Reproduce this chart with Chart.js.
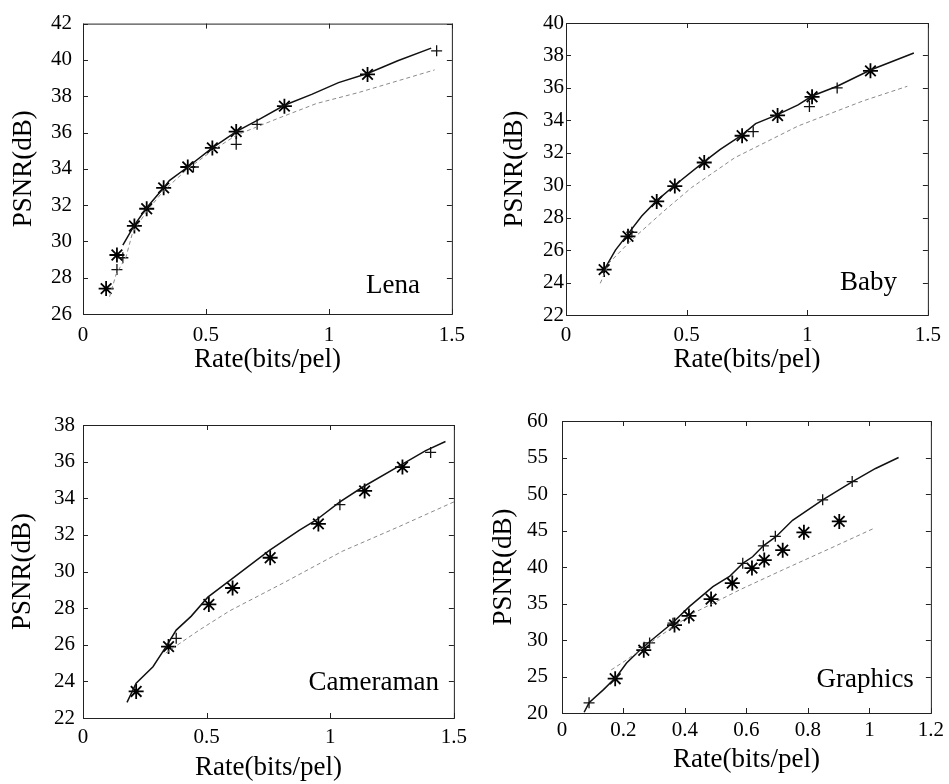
<!DOCTYPE html>
<html>
<head>
<meta charset="utf-8">
<script src="https://cdn.jsdelivr.net/npm/chart.js@4.4.0/dist/chart.umd.min.js"></script>
<style>
  body { margin: 0; background: #fff; width: 949px; height: 784px; position: relative; overflow: hidden; }
  canvas { position: absolute; }
</style>
</head>
<body>
<canvas id="c0" width="474" height="392" style="left:0;top:0"></canvas>
<canvas id="c1" width="475" height="392" style="left:474px;top:0"></canvas>
<canvas id="c2" width="474" height="392" style="left:0;top:392px"></canvas>
<canvas id="c3" width="475" height="392" style="left:474px;top:392px"></canvas>
<script>
// tick values
const rateTicks = [0, 0.5, 1, 1.5];
const graphicsRateTicks = [0, 0.2, 0.4, 0.6, 0.8, 1, 1.2];
const lenaTicks = [26, 28, 30, 32, 34, 36, 38, 40, 42];
const babyTicks = [22, 24, 26, 28, 30, 32, 34, 36, 38, 40];
const camTicks = [22, 24, 26, 28, 30, 32, 34, 36, 38];
const graphicsTicks = [20, 25, 30, 35, 40, 45, 50, 55, 60];

// Lena  [rate, psnr]
const lenaSolid = [[0.162,29.8],[0.209,30.9],[0.259,31.85],[0.328,32.95],[0.351,33.35],[0.426,34.1],[0.526,35.15],[0.623,36.05],[0.72,36.75],[0.819,37.5],[0.93,38.1],[1.039,38.75],[1.157,39.25],[1.28,39.95],[1.416,40.65]];
const lenaDotted = [[0.108,26.95],[0.135,28.2],[0.175,29.15],[0.202,30.5],[0.259,31.65],[0.328,32.8],[0.426,34.0],[0.526,35.0],[0.623,35.85],[0.797,36.8],[0.95,37.6],[1.12,38.2],[1.43,39.45]];
const lenaStar = [[0.094,27.4],[0.138,29.25],[0.209,30.85],[0.259,31.8],[0.328,32.95],[0.426,34.1],[0.526,35.15],[0.623,36.05],[0.819,37.45],[1.157,39.2]];
const lenaPlus = [[0.138,28.45],[0.162,29.1],[0.449,34.1],[0.623,35.35],[0.708,36.45],[1.438,40.5]];

// Baby
const babySolid = [[0.151,24.6],[0.205,26.0],[0.257,27.0],[0.314,28.1],[0.376,29.05],[0.451,30.0],[0.573,31.45],[0.638,32.2],[0.73,33.1],[0.786,33.8],[0.877,34.35],[0.962,34.95],[1.02,35.5],[1.124,36.1],[1.262,37.1],[1.442,38.15]];
const babyDotted = [[0.142,23.95],[0.178,25.2],[0.27,26.6],[0.405,28.4],[0.52,29.85],[0.7,31.7],[0.962,33.65],[1.232,35.2],[1.415,36.1]];
const babyStar = [[0.158,24.8],[0.257,26.85],[0.376,29.0],[0.451,29.95],[0.573,31.4],[0.73,33.05],[0.877,34.3],[1.02,35.45],[1.262,37.05]];
const babyPlus = [[0.273,27.1],[0.776,33.3],[1.009,34.85],[1.124,36.0]];

// Cameraman
const camSolid = [[0.178,22.85],[0.215,23.9],[0.283,24.8],[0.336,25.9],[0.377,26.8],[0.437,27.55],[0.505,28.6],[0.593,29.5],[0.754,31.15],[0.874,32.25],[0.942,32.8],[1.039,33.8],[1.13,34.6],[1.29,35.85],[1.386,36.6],[1.466,37.1]];
const camDotted = [[0.335,25.55],[0.47,26.8],[0.593,27.85],[0.821,29.45],[1.048,31.1],[1.278,32.45],[1.5,33.8]];
const camStar = [[0.215,23.45],[0.346,25.9],[0.509,28.2],[0.605,29.1],[0.757,30.75],[0.952,32.6],[1.139,34.4],[1.292,35.7]];
const camPlus = [[0.377,26.35],[1.039,33.65],[1.406,36.5]];

// Graphics
const grSolid = [[0.072,20.1],[0.088,21.4],[0.135,23.2],[0.178,25.0],[0.21,26.85],[0.253,28.6],[0.286,29.8],[0.361,32.4],[0.415,34.6],[0.491,37.3],[0.545,38.7],[0.588,40.5],[0.62,41.4],[0.655,42.9],[0.696,44.15],[0.75,46.4],[0.848,49.2],[0.945,51.7],[1.02,53.5],[1.095,55.0]];
const grDotted = [[0.16,25.9],[0.211,27.3],[0.3,30.0],[0.426,33.65],[0.577,36.85],[0.718,39.6],[0.87,42.5],[1.015,45.3]];
const grStar = [[0.173,24.7],[0.266,28.6],[0.366,32.05],[0.413,33.3],[0.485,35.6],[0.554,37.8],[0.618,39.85],[0.658,40.95],[0.718,42.3],[0.787,44.75],[0.902,46.25]];
const grPlus = [[0.088,21.4],[0.267,29.0],[0.285,29.6],[0.361,32.3],[0.588,40.5],[0.655,42.9],[0.694,44.2],[0.848,49.2],[0.944,51.7]];

const SERIF = '"Liberation Serif", "Times New Roman", serif';

// box round the plot, inward ticks on all sides, image name
const framePlugin = {
  id: 'frame',
  afterDraw(chart, args, opts) {
    const { ctx, chartArea: a, scales: { x, y } } = chart;
    ctx.save();
    ctx.strokeStyle = '#222';
    ctx.lineWidth = 1;
    ctx.strokeRect(a.left + 0.5, a.top + 0.5, a.right - a.left, a.bottom - a.top);
    ctx.beginPath();
    x.ticks.forEach(t => {
      const px = Math.round(x.getPixelForValue(t.value)) + 0.5;
      ctx.moveTo(px, a.bottom); ctx.lineTo(px, a.bottom - 5);
      ctx.moveTo(px, a.top); ctx.lineTo(px, a.top + 5);
    });
    y.ticks.forEach(t => {
      const py = Math.round(y.getPixelForValue(t.value)) + 0.5;
      ctx.moveTo(a.left, py); ctx.lineTo(a.left + 5, py);
      ctx.moveTo(a.right, py); ctx.lineTo(a.right - 5, py);
    });
    ctx.stroke();
    ctx.font = '27px ' + SERIF;
    ctx.fillStyle = '#000';
    ctx.textAlign = 'right';
    ctx.textBaseline = 'alphabetic';
    ctx.fillText(opts.name, a.right - opts.dx, a.bottom - opts.dy);
    ctx.restore();
  }
};

const pts = arr => arr.map(([x, y]) => ({ x, y }));

function makePanel(id, p) {
  new Chart(document.getElementById(id), {
    type: 'scatter',
    data: {
      datasets: [
        { data: pts(p.dotted), showLine: true, borderColor: '#8a8a8a', borderWidth: 1, borderDash: [4, 3], pointRadius: 0 },
        { data: pts(p.solid), showLine: true, borderColor: '#111', borderWidth: 1.5, pointRadius: 0 },
        { data: pts(p.plus), pointStyle: 'cross', pointRadius: 5.5, borderColor: '#111', borderWidth: 1.3, backgroundColor: '#111' },
        { data: pts(p.star), pointStyle: 'star', pointRadius: 7.5, borderColor: '#000', borderWidth: 1.8, backgroundColor: '#000' }
      ]
    },
    options: {
      responsive: false,
      animation: false,
      layout: { padding: { top: p.padTop, right: p.padRight, left: 0, bottom: 0 } },
      plugins: {
        legend: { display: false },
        tooltip: { enabled: false },
        frame: { name: p.name, dx: p.nameDx, dy: p.nameDy }
      },
      scales: {
        x: {
          type: 'linear',
          min: p.xTicks[0],
          max: p.xTicks[p.xTicks.length - 1],
          afterBuildTicks: s => { s.ticks = p.xTicks.map(v => ({ value: v })); },
          afterFit: s => { s.height = p.xAxisH; },
          grid: { display: false, drawTicks: false },
          border: { display: false },
          ticks: { color: '#000', font: { family: SERIF, size: 21 }, padding: p.xTickPad, maxRotation: 0, autoSkip: false, callback: v => String(v) },
          title: { display: true, text: 'Rate(bits/pel)', color: '#000', font: { family: SERIF, size: 27 }, padding: { top: 0, bottom: p.xTitlePad } }
        },
        y: {
          type: 'linear',
          min: p.yTicks[0],
          max: p.yTicks[p.yTicks.length - 1],
          afterBuildTicks: s => { s.ticks = p.yTicks.map(v => ({ value: v })); },
          afterFit: s => { s.width = p.yAxisW; },
          grid: { display: false, drawTicks: false },
          border: { display: false },
          ticks: { color: '#000', font: { family: SERIF, size: 21 }, padding: p.yTickPad, autoSkip: false, callback: v => String(v) },
          title: { display: true, text: 'PSNR(dB)', color: '#000', font: { family: SERIF, size: 27 }, padding: { top: p.yTitlePad, bottom: 0 } }
        }
      }
    },
    plugins: [framePlugin]
  });
}

makePanel('c0', { name: 'Lena', solid: lenaSolid, dotted: lenaDotted, star: lenaStar, plus: lenaPlus,
  xTicks: rateTicks, yTicks: lenaTicks,
  padTop: 22, padRight: 20, yAxisW: 83, xAxisH: 78, xTickPad: 9, yTickPad: 11, xTitlePad: 16, yTitlePad: 8, nameDx: 32, nameDy: 21 });
makePanel('c1', { name: 'Baby', solid: babySolid, dotted: babyDotted, star: babyStar, plus: babyPlus,
  xTicks: rateTicks, yTicks: babyTicks,
  padTop: 23, padRight: 13, yAxisW: 92, xAxisH: 77, xTickPad: 8, yTickPad: 2, xTitlePad: 16, yTitlePad: 25, nameDx: 31, nameDy: 25 });
makePanel('c2', { name: 'Cameraman', solid: camSolid, dotted: camDotted, star: camStar, plus: camPlus,
  xTicks: rateTicks, yTicks: camTicks,
  padTop: 33, padRight: 19, yAxisW: 83, xAxisH: 66, xTickPad: 7, yTickPad: 8, xTitlePad: 0, yTitlePad: 7, nameDx: 15, nameDy: 28 });
makePanel('c3', { name: 'Graphics', solid: grSolid, dotted: grDotted, star: grStar, plus: grPlus,
  xTicks: graphicsRateTicks, yTicks: graphicsTicks,
  padTop: 29, padRight: 17, yAxisW: 88, xAxisH: 71, xTickPad: 5, yTickPad: 14, xTitlePad: 8, yTitlePad: 14, nameDx: 17, nameDy: 26 });
</script>
</body>
</html>
